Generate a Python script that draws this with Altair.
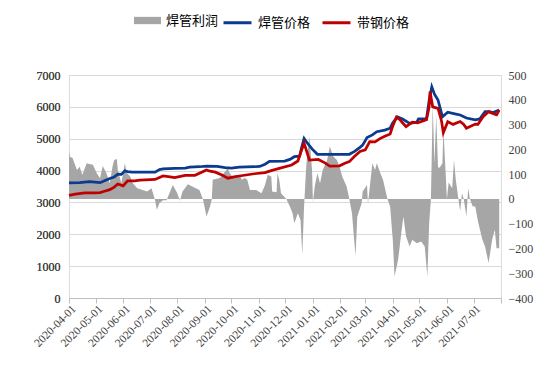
import altair as alt
import pandas as pd

# ---- data ----
profit_dates = [
    "2020-04-01","2020-04-02","2020-04-05","2020-04-10","2020-04-13","2020-04-16","2020-04-21","2020-04-24",
    "2020-04-28","2020-05-02","2020-05-06","2020-05-09","2020-05-13","2020-05-17","2020-05-20","2020-05-22",
    "2020-05-25","2020-05-26","2020-05-30","2020-06-03","2020-06-05","2020-06-09","2020-06-12","2020-06-17",
    "2020-06-23","2020-06-28","2020-07-03","2020-07-07","2020-07-09","2020-07-12","2020-07-16","2020-07-20",
    "2020-07-24","2020-07-27","2020-08-01","2020-08-04","2020-08-07","2020-08-13","2020-08-18","2020-08-26",
    "2020-08-30","2020-09-03","2020-09-07","2020-09-09","2020-09-10","2020-09-18","2020-09-27","2020-09-29",
    "2020-10-02","2020-10-10","2020-10-13","2020-10-16","2020-10-19","2020-10-22","2020-10-29","2020-11-04",
    "2020-11-08","2020-11-11","2020-11-15","2020-11-16","2020-11-21","2020-11-22","2020-11-24","2020-11-26",
    "2020-12-02","2020-12-06","2020-12-09","2020-12-11","2020-12-15","2020-12-18","2020-12-20","2020-12-22",
    "2020-12-24","2020-12-25","2020-12-28","2020-12-31","2021-01-01","2021-01-03","2021-01-06","2021-01-09",
    "2021-01-12","2021-01-17","2021-01-20","2021-01-24","2021-01-28","2021-01-31","2021-02-03","2021-02-08",
    "2021-02-11","2021-02-14","2021-02-18","2021-02-20","2021-02-25","2021-02-26","2021-03-03","2021-03-04",
    "2021-03-09","2021-03-12","2021-03-14","2021-03-18","2021-03-21","2021-03-26","2021-03-29","2021-04-01",
    "2021-04-03","2021-04-07","2021-04-11","2021-04-13","2021-04-16","2021-04-20","2021-04-23","2021-04-28",
    "2021-05-03","2021-05-07","2021-05-10","2021-05-12","2021-05-14","2021-05-16","2021-05-18","2021-05-20",
    "2021-05-22","2021-05-24","2021-05-27","2021-05-28","2021-05-31","2021-06-01","2021-06-03","2021-06-07",
    "2021-06-09","2021-06-11","2021-06-14","2021-06-16","2021-06-18","2021-06-20","2021-06-23","2021-06-25",
    "2021-06-27","2021-06-30","2021-07-03","2021-07-06","2021-07-11","2021-07-14","2021-07-18","2021-07-22",
    "2021-07-25","2021-07-27","2021-07-30",
]
profit_values = [
    191, 170, 165, 117, 130, 97, 144, 141,
    138, 105, 83, 133, 105, 63, 130, 157,
    161, 117, 63, 144, 105, 90, 63, 43,
    36, 30, 43, -4, -44, -17, -5, -5,
    30, 56, 24, -8, 30, 59, 50, 36,
    -1, -71, -31, 0, 77, 84, 124, 105,
    90, 97, 77, 84, 77, 36, 36, 23,
    56, 97, 90, 30, 27, 103, 77, 23,
    0, -31, -58, -98, -58, -85, -225, -31,
    103, 157, 251, 117, -13, 50, 103, 63,
    117, 157, 211, 171, 157, 130, 90, 50,
    0, -58, -230, -71, -17, 30, 56, -20,
    144, 117, 144, 103, 77, 0, -31, -165,
    -313, -246, -125, -71, -152, -192, -165, -179,
    -172, -192, -313, -100, 0, 380, 144, 339,
    127, 127, 144, 283, 77, 0, 66, 43,
    157, 77, 0, -49, 23, 0, -71, 43,
    0, -30, -31, -90, -165, -192, -259, -165,
    -125, -199, -199,
]

pipe_dates = [
    "2020-04-01","2020-04-13","2020-04-24","2020-05-06","2020-05-11","2020-05-17","2020-05-22","2020-05-26",
    "2020-05-30","2020-06-03","2020-06-06","2020-06-11","2020-07-07","2020-07-12","2020-07-16","2020-07-29",
    "2020-08-10","2020-08-15","2020-08-26","2020-09-03","2020-09-15","2020-09-24","2020-10-01","2020-10-10",
    "2020-10-27","2020-11-02","2020-11-08","2020-11-13","2020-11-30","2020-12-06","2020-12-11","2020-12-17",
    "2020-12-19","2020-12-22","2020-12-26","2020-12-31","2021-01-06","2021-02-11","2021-02-17","2021-02-23",
    "2021-02-26","2021-03-03","2021-03-09","2021-03-14","2021-03-23","2021-03-29","2021-04-01","2021-04-05",
    "2021-04-06","2021-04-12","2021-04-20","2021-04-28","2021-04-30","2021-05-09","2021-05-12","2021-05-15",
    "2021-05-18","2021-05-22","2021-05-25","2021-05-27","2021-06-02","2021-06-10","2021-06-16","2021-06-23",
    "2021-07-03","2021-07-08","2021-07-14","2021-07-19","2021-07-23","2021-07-30",
]
pipe_values = [
    3610, 3620, 3650, 3620, 3680, 3750, 3800, 3890,
    3880, 3990, 3970, 3950, 3950, 4030, 4050, 4070,
    4080, 4110, 4120, 4140, 4130, 4090, 4080, 4110,
    4120, 4130, 4200, 4290, 4300, 4350, 4435, 4450,
    4700, 5010, 4850, 4680, 4510, 4510, 4600, 4730,
    4800, 5040, 5120, 5220, 5270, 5330, 5500, 5640,
    5690, 5620, 5480, 5520, 5620, 5620, 6200, 6630,
    6400, 6215, 5900, 5690, 5830, 5780, 5745, 5650,
    5590, 5620, 5850, 5850, 5820, 5900,
]

strip_dates = [
    "2020-04-01","2020-04-08","2020-04-19","2020-04-30","2020-05-06","2020-05-11","2020-05-17","2020-05-22",
    "2020-05-26","2020-06-01","2020-06-06","2020-06-14","2020-06-20","2020-07-07","2020-07-12","2020-07-16",
    "2020-07-24","2020-07-29","2020-08-10","2020-08-21","2020-09-03","2020-09-07","2020-09-13","2020-09-21",
    "2020-09-27","2020-10-04","2020-10-10","2020-10-27","2020-11-08","2020-11-15","2020-11-24","2020-12-08",
    "2020-12-15","2020-12-18","2020-12-22","2020-12-25","2020-12-28","2021-01-07","2021-01-14","2021-01-20",
    "2021-01-31","2021-02-06","2021-02-11","2021-02-17","2021-02-23","2021-03-01","2021-03-06","2021-03-12",
    "2021-03-18","2021-03-23","2021-03-29","2021-04-01","2021-04-05","2021-04-09","2021-04-12","2021-04-16",
    "2021-04-23","2021-04-29","2021-05-09","2021-05-12","2021-05-13","2021-05-16","2021-05-22","2021-05-26",
    "2021-05-28","2021-06-02","2021-06-08","2021-06-16","2021-06-20","2021-06-23","2021-07-03","2021-07-06",
    "2021-07-12","2021-07-18","2021-07-22","2021-07-27","2021-07-30",
]
strip_values = [
    3220, 3260, 3300, 3300, 3310, 3350, 3400, 3480,
    3580, 3520, 3680, 3680, 3700, 3720, 3780, 3830,
    3800, 3780, 3850, 3850, 4020, 3980, 3950, 3850,
    3760, 3800, 3830, 3900, 3935, 4000, 4070, 4175,
    4300, 4550, 4860, 4600, 4330, 4350, 4250, 4140,
    4150, 4230, 4280, 4450, 4600, 4650, 4910, 4900,
    5010, 5080, 5150, 5400, 5670, 5600, 5500, 5380,
    5520, 5500, 5600, 6000, 6480, 6000, 5950, 5550,
    5190, 5535, 5450, 5540, 5450, 5330, 5460, 5450,
    5700, 5850, 5800, 5750, 5900,
]

tick_months = [
    (2020, 4), (2020, 5), (2020, 6), (2020, 7), (2020, 8), (2020, 9), (2020, 10), (2020, 11),
    (2020, 12), (2021, 1), (2021, 2), (2021, 3), (2021, 4), (2021, 5), (2021, 6), (2021, 7), (2021, 8),
]
left_ticks = [0, 1000, 2000, 3000, 4000, 5000, 6000, 7000]
right_ticks = [-400, -300, -200, -100, 0, 100, 200, 300, 400, 500]

S_PROFIT, S_PIPE, S_STRIP = "焊管利润", "焊管价格", "带钢价格"

profit_df = pd.DataFrame({"date": profit_dates, "value": profit_values, "series": S_PROFIT})
lines_df = pd.concat([
    pd.DataFrame({"date": pipe_dates, "value": pipe_values, "series": S_PIPE}),
    pd.DataFrame({"date": strip_dates, "value": strip_values, "series": S_STRIP}),
])

CJK = "Noto Sans CJK SC"
SERIF = "Liberation Serif"

tick_vals = [alt.DateTime(year=y, month=m, date=1, utc=True) for y, m in tick_months]
x_enc = alt.X(
    "date:T",
    scale=alt.Scale(type="utc", domain=[tick_vals[0], tick_vals[-1]]),
    axis=alt.Axis(
        title=None, values=tick_vals, grid=False,
        labelExpr="datum.value >= utc(2021, 6, 15) ? '' : utcFormat(datum.value, '%Y-%m-%d')",
        labelAngle=315, labelAlign="right", labelBaseline="middle",
        labelFont=SERIF, labelFontSize=11.5, labelColor="#404040",
        labelPadding=4, labelOffset=5,
        domainColor="#bfbfbf", tickColor="#bfbfbf", tickSize=5,
        labelOverlap=False,
    ),
)

area = alt.Chart(profit_df).mark_area(opacity=1, interpolate="linear").encode(
    x=x_enc,
    y=alt.Y(
        "value:Q",
        scale=alt.Scale(domain=[-400, 500], nice=False, zero=False),
        axis=alt.Axis(
            title=None, orient="right", values=right_ticks, grid=False,
            domain=False, ticks=False, labelPadding=7, format="d",
            labelFont=SERIF, labelFontSize=12, labelColor="#404040",
        ),
    ),
    y2=alt.datum(0),
    fill=alt.Fill(
        "series:N",
        scale=alt.Scale(domain=[S_PROFIT], range=["#a6a6a6"]),
        legend=alt.Legend(
            title=None, orient="none", legendX=65, legendY=-68,
            direction="horizontal", padding=0,
            symbolType="M-1,-0.27H1V0.27H-1Z", symbolSize=729,
            symbolStrokeWidth=0, symbolOpacity=1,
            labelFont=CJK, labelFontSize=13, labelColor="#000000", labelOffset=5,
        ),
    ),
)

color_enc = alt.Color(
    "series:N",
    scale=alt.Scale(domain=[S_PIPE, S_STRIP], range=["#0b3b8f", "#c00000"]),
    legend=alt.Legend(
        title=None, orient="none", legendX=153, legendY=-68,
        direction="horizontal", padding=0,
        symbolType="stroke", symbolSize=784, symbolStrokeWidth=3,
        labelFont=CJK, labelFontSize=13, labelColor="#000000", labelOffset=5,
        columnPadding=5,
    ),
)
y_left = alt.Y(
    "value:Q",
    scale=alt.Scale(domain=[0, 7000], nice=False),
    axis=alt.Axis(
        title=None, orient="left", values=left_ticks, grid=True, gridColor="#d9d9d9",
        domain=False, ticks=False, labelPadding=9, format="d",
        labelFont=SERIF, labelFontSize=12, labelColor="#404040",
    ),
)

blue = alt.Chart(lines_df).transform_filter(alt.datum.series == S_PIPE).mark_line(strokeWidth=2.75).encode(
    x=x_enc, y=y_left, color=color_enc
)
red = alt.Chart(lines_df).transform_filter(alt.datum.series == S_STRIP).mark_line(strokeWidth=2.75).encode(
    x=x_enc, y=y_left, color=color_enc
)

chart = alt.layer(area, blue, red).resolve_scale(y="independent").properties(
    width=432, height=223,
    autosize=alt.AutoSizeParams(type="none"),
    padding={"left": 61, "top": 67, "right": 36, "bottom": 66},
).configure_view(stroke=None).configure(background="white")

chart.save("out.html", embed_options={"renderer": "svg", "actions": False})
